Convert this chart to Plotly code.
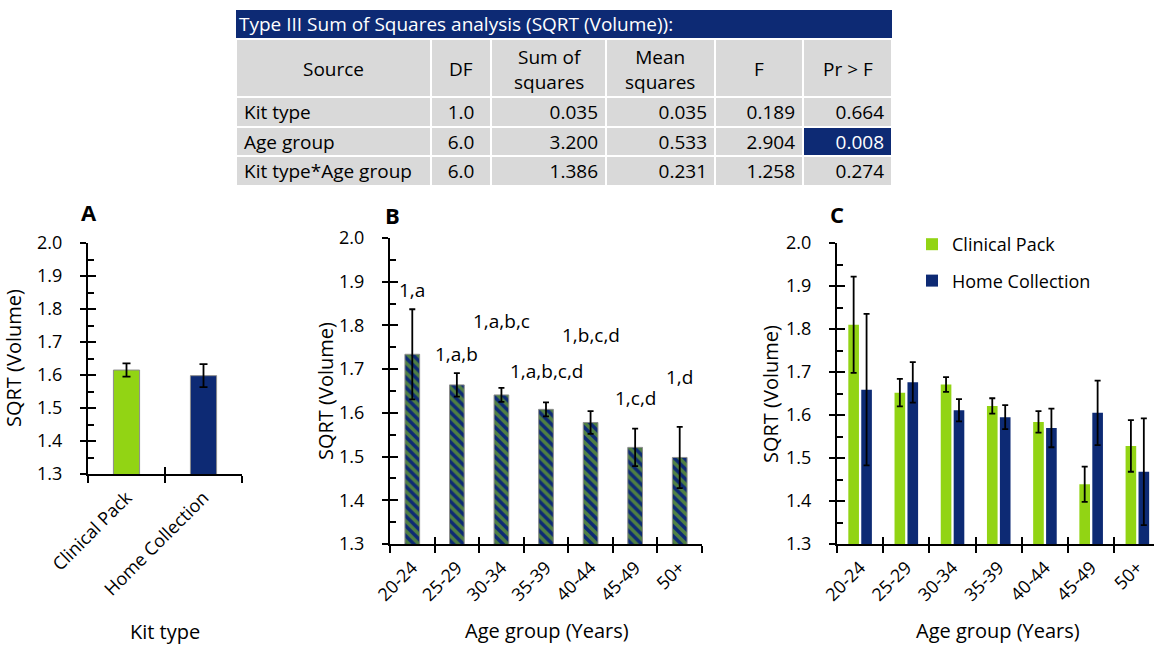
import plotly.graph_objects as go

# ---------------- data ----------------
kit_types = ["Clinical Pack", "Home Collection"]
kit_means = [1.615, 1.598]
kit_errs = [0.020, 0.035]

age_groups = ["20-24", "25-29", "30-34", "35-39", "40-44", "45-49", "50+"]
age_means = [1.734, 1.664, 1.641, 1.608, 1.578, 1.521, 1.498]
age_errs = [0.103, 0.027, 0.016, 0.016, 0.026, 0.043, 0.070]
sig_labels = ["1,a", "1,a,b", "1,a,b,c", "1,a,b,c,d", "1,b,c,d", "1,c,d", "1,d"]
sig_label_y = [1.882, 1.734, 1.809, 1.695, 1.779, 1.634, 1.683]

clinical_means = [1.810, 1.652, 1.671, 1.621, 1.584, 1.439, 1.528]
clinical_errs = [0.112, 0.032, 0.017, 0.018, 0.025, 0.041, 0.060]
home_means = [1.659, 1.676, 1.611, 1.595, 1.570, 1.605, 1.468]
home_errs = [0.176, 0.047, 0.026, 0.028, 0.045, 0.075, 0.124]

table_title = "Type III Sum of Squares analysis (SQRT (Volume)):"
table_header = ["Source", "DF", "Sum of<br>squares", "Mean<br>squares", "F", "Pr > F"]
tbl_source = ["Kit type", "Age group", "Kit type*Age group"]
tbl_df = [1.0, 6.0, 6.0]
tbl_ss = [0.035, 3.200, 1.386]
tbl_ms = [0.035, 0.533, 0.231]
tbl_f = [0.189, 2.904, 1.258]
tbl_p = [0.664, 0.008, 0.274]

# ---------------- style ----------------
W, H = 1154, 646
FONT = "Open Sans"
GREEN = "#92D414"
NAVY = "#0D2A74"
GRAY = "#D9D9D9"
EDGE = "#8C8C8C"
COL_EDGES = [236, 431, 491, 606, 715, 803, 892]   # table column borders (px)


def fx(p):
    return p / W


def fy(p):
    return 1 - p / H


fig = go.Figure()

# ---------------- table ----------------
col_w = [COL_EDGES[i + 1] - COL_EDGES[i] for i in range(len(COL_EDGES) - 1)]
fig.add_trace(go.Table(
    domain=dict(x=[fx(COL_EDGES[0]), fx(COL_EDGES[-1])], y=[fy(188), fy(39)]),
    columnwidth=col_w,
    header=dict(values=[""] * len(table_header), fill_color=GRAY,
                line=dict(color="white", width=2), align="center",
                font=dict(family=FONT, size=19, color="black"), height=58),
    cells=dict(values=[tbl_source, tbl_df, tbl_ss, tbl_ms, tbl_f, tbl_p],
               format=["", ".1f", ".3f", ".3f", ".3f", ".3f"],
               fill_color=[[GRAY] * 3] * 5 + [[GRAY, NAVY, GRAY]],
               line=dict(color="white", width=2),
               align=["left", "center", "right", "right", "right", "right"],
               font=dict(family=FONT, size=19,
                         color=[["black"] * 3] * 5 + [["black", "white", "black"]]),
               height=29.5),
))

err_style = dict(type="data", visible=True, color="black", thickness=1.8)

# ---------------- panel A ----------------
fig.add_trace(go.Bar(
    x=kit_types, y=kit_means, width=0.34, xaxis="x", yaxis="y",
    marker=dict(color=[GREEN, NAVY], line=dict(color=EDGE, width=1)),
    error_y=dict(array=kit_errs, width=4, **err_style),
    showlegend=False, hoverinfo="skip"))

# ---------------- panel B ----------------
fig.add_trace(go.Bar(
    x=age_groups, y=age_means, width=0.33, xaxis="x2", yaxis="y2",
    marker=dict(color=NAVY, line=dict(color=EDGE, width=1),
                pattern=dict(shape="\\", fgcolor=GREEN, fillmode="overlay",
                             size=7, solidity=0.5)),
    error_y=dict(array=age_errs, width=3, **err_style),
    showlegend=False, hoverinfo="skip"))

# ---------------- panel C ----------------
fig.add_trace(go.Bar(
    name="Clinical Pack", x=age_groups, y=clinical_means, width=0.23, offset=-0.255,
    xaxis="x3", yaxis="y3", marker=dict(color=GREEN, line=dict(width=0)),
    error_y=dict(array=clinical_errs, width=3, **err_style),
    legendgroup="cp", hoverinfo="skip"))
fig.add_trace(go.Bar(
    name="Home Collection", x=age_groups, y=home_means, width=0.23, offset=0.025,
    xaxis="x3", yaxis="y3", marker=dict(color=NAVY, line=dict(width=0)),
    error_y=dict(array=home_errs, width=3, **err_style),
    legendgroup="hc", hoverinfo="skip"))

# empty traces carrying the overlay axes (inner halves of the crossing ticks)
for k in (4, 5, 6):
    fig.add_trace(go.Scatter(x=[], y=[], xaxis=f"x{k}", yaxis=f"y{k}",
                             showlegend=False, hoverinfo="skip"))

panels = [
    # (axis id, x domain px, y domain px, categories, x range, x tick font)
    ("", (88, 242), (243, 474), kit_types, [-0.5, 1.5], 18),
    ("2", (390, 702), (238, 544), age_groups, [-0.5, 6.5], 18),
    ("3", (837, 1154), (243, 544), age_groups, [-0.5, 6.36], 18),
]

layout_axes = {}
for i, (aid, (x0, x1), (y0, y1), cats, xr, xfs) in enumerate(panels):
    ov = str(4 + i)
    layout_axes["xaxis" + aid] = dict(
        domain=[fx(x0), fx(x1)], anchor="y" + aid, type="category",
        categoryorder="array", categoryarray=cats, range=xr, automargin=False,
        showline=True, linecolor="black", linewidth=2, mirror=False,
        ticks="outside", ticklen=7, tickwidth=2, tickcolor="black",
        tickson="boundaries", tickangle=-45, ticklabelstandoff=4,
        tickfont=dict(family=FONT, size=xfs, color="black"),
        showgrid=False, zeroline=False, fixedrange=True)
    layout_axes["yaxis" + aid] = dict(
        domain=[fy(y1), fy(y0)], anchor="x" + aid, range=[1.3, 2.0],
        tick0=1.3, dtick=0.1, tickformat=".1f", automargin=False,
        showline=True, linecolor="black", linewidth=2,
        ticks="outside", ticklen=6, tickwidth=2, tickcolor="black",
        ticklabelstandoff=14,
        tickfont=dict(family=FONT, size=18, color="black"),
        showgrid=False, zeroline=False, fixedrange=True)
    layout_axes["xaxis" + ov] = dict(
        overlaying="x" + aid, anchor="y" + ov, range=xr, automargin=False,
        tickvals=[j - 0.5 for j in range(len(cats) + 1)],
        ticks="inside", ticklen=7, tickwidth=2, tickcolor="black",
        showticklabels=False, showline=False, showgrid=False, zeroline=False,
        fixedrange=True)
    layout_axes["yaxis" + ov] = dict(
        overlaying="y" + aid, anchor="x" + ov, range=[1.3, 2.0], automargin=False,
        tick0=1.3, dtick=0.1,
        ticks="inside", ticklen=8, tickwidth=2, tickcolor="black",
        minor=dict(ticks="inside", tick0=1.3, dtick=0.05, ticklen=6,
                   tickwidth=2, tickcolor="black"),
        showticklabels=False, showline=False, showgrid=False, zeroline=False,
        fixedrange=True)

annotations = []


def txt(text, x, y, size=20, angle=0, bold=False, color="black", xanchor="center"):
    annotations.append(dict(
        text=f"<b>{text}</b>" if bold else text, x=fx(x), y=fy(y),
        xref="paper", yref="paper", xanchor=xanchor, yanchor="middle",
        showarrow=False, textangle=angle,
        font=dict(family=FONT, size=size, color=color)))


# table title and header labels (vertically centred in the header row)
txt(table_title, 237, 24, size=19, color="white", xanchor="left")
for j, h in enumerate(table_header):
    txt(h, (COL_EDGES[j] + COL_EDGES[j + 1]) / 2, 69, size=19)

# panel letters
txt("A", 89, 212, size=22, bold=True)
txt("B", 392, 215, size=22, bold=True)
txt("C", 837, 214, size=22, bold=True)

# axis titles
txt("SQRT (Volume)", 13, 358, angle=-90)
txt("SQRT (Volume)", 325, 391, angle=-90)
txt("SQRT (Volume)", 770, 394, angle=-90)
txt("Kit type", 165, 631)
txt("Age group (Years)", 547, 630)
txt("Age group (Years)", 998, 630)

# significance labels on panel B
for lab, g, yv in zip(sig_labels, age_groups, sig_label_y):
    annotations.append(dict(text=lab, x=g, y=yv, xref="x2", yref="y2",
                            showarrow=False, xanchor="center", yanchor="middle",
                            font=dict(family=FONT, size=19, color="black")))

fig.update_layout(
    width=W, height=H, margin=dict(l=0, r=0, t=0, b=0, autoexpand=False),
    paper_bgcolor="white", plot_bgcolor="white",
    barmode="overlay",
    font=dict(family=FONT, color="black"),
    showlegend=True,
    legend=dict(x=fx(912), y=fy(226), xanchor="left", yanchor="top",
                bgcolor="rgba(0,0,0,0)", tracegroupgap=10,
                font=dict(family=FONT, size=18, color="black")),
    shapes=[dict(type="rect", xref="paper", yref="paper",
                 x0=fx(236), x1=fx(892), y0=fy(38), y1=fy(10),
                 fillcolor=NAVY, line=dict(width=0), layer="below")],
    annotations=annotations,
    **layout_axes,
)

# remove the browser's default page margin so the figure sits at (0, 0)
fig.write_html("out.html",
               config={"displayModeBar": False, "staticPlot": True},
               post_script="document.body.style.margin='0';"
                           "document.body.style.overflow='hidden';")
